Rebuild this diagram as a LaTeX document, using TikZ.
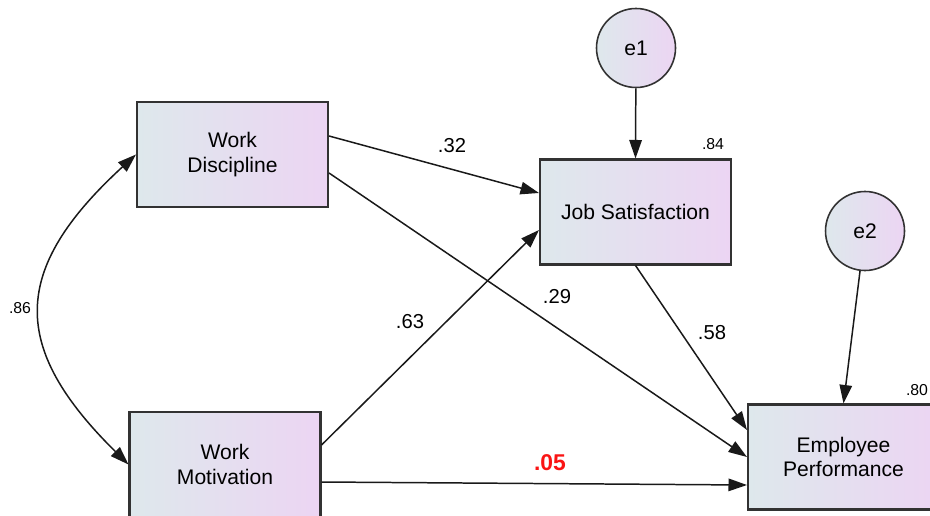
\documentclass[tikz,border=0pt]{standalone}
\usepackage{fontspec}
\setmainfont{Liberation Sans}
\usetikzlibrary{arrows.meta,positioning}
\definecolor{boxleft}{RGB}{222,232,236}
\definecolor{boxright}{RGB}{236,213,243}
\definecolor{edge}{RGB}{50,50,50}
\definecolor{coefred}{RGB}{250,20,20}

\begin{document}
\begin{tikzpicture}[
      >={Triangle[length=0.37cm,width=0.25cm]},
      var/.style={draw=edge, line width=1.15pt, minimum width=3.82cm,
                  minimum height=2.1cm, align=center, left color=boxleft,
                  right color=boxright, font=\fontsize{12}{14}\selectfont},
      err/.style={circle, draw=edge, line width=0.9pt, minimum size=1.58cm,
                  left color=boxleft, right color=boxright,
                  font=\fontsize{12}{14}\selectfont},
      arr/.style={->, line width=0.85pt, black!90},
      coef/.style={font=\fontsize{11.5}{13.7}\selectfont},
      rsq/.style={font=\fontsize{9}{11}\selectfont},
    ]
    \clip (0,0) rectangle (18.6,10.3);

    % --- observed variables ---
    \node[var] (wd) at (4.65,7.21) {Work\\Discipline};
    \node[var] (js) at (12.71,6.06) {Job Satisfaction};
    \node[var] (wm) at (4.50,1.01) {Work\\Motivation};
    \node[var] (ep) at (16.87,1.16) {Employee\\Performance};

    % --- error terms ---
    \node[err] (e1) at (12.72,9.34) {e1};
    \node[err] (e2) at (17.30,5.68) {e2};

    % --- paths ---
    \draw[arr] ([yshift=0.37cm]wd.east) -- ([yshift=0.38cm]js.west);
    \draw[arr] ([yshift=-0.37cm]wd.east) -- (ep.west);
    \draw[arr] ([yshift=0.39cm]wm.east) -- ([yshift=-0.36cm]js.west);
    \draw[arr] ([yshift=-0.35cm]wm.east) -- ([yshift=-0.56cm]ep.west);
    \draw[arr] (js.south) -- ([yshift=0.54cm]ep.west);
    \draw[arr] (e1) -- (js.north);
    \draw[arr] (e2) -- (ep.north);

    % --- covariance ---
    \draw[arr, <->] (wd.west) .. controls (0.2,4.9) and (0.2,3.35) .. (wm.west);

    % --- estimates ---
    \node[coef] (c32) at (9.04,7.38) {.32};
    \node[coef] (c29) at (11.14,4.36) {.29};
    \node[coef] (c63) at (8.20,3.86) {.63};
    \node[coef] (c58) at (14.24,3.64) {.58};
    \node[coef, font=\fontsize{13}{15}\selectfont\bfseries, coefred] (c05)
      at (11.00,1.04) {.05};
    \node[rsq] (r84) at (14.26,7.42) {.84};
    \node[rsq] (r80) at (18.34,2.50) {.80};
    \node[rsq] (r86) at (0.40,4.14) {.86};
  \end{tikzpicture}
\end{document}
